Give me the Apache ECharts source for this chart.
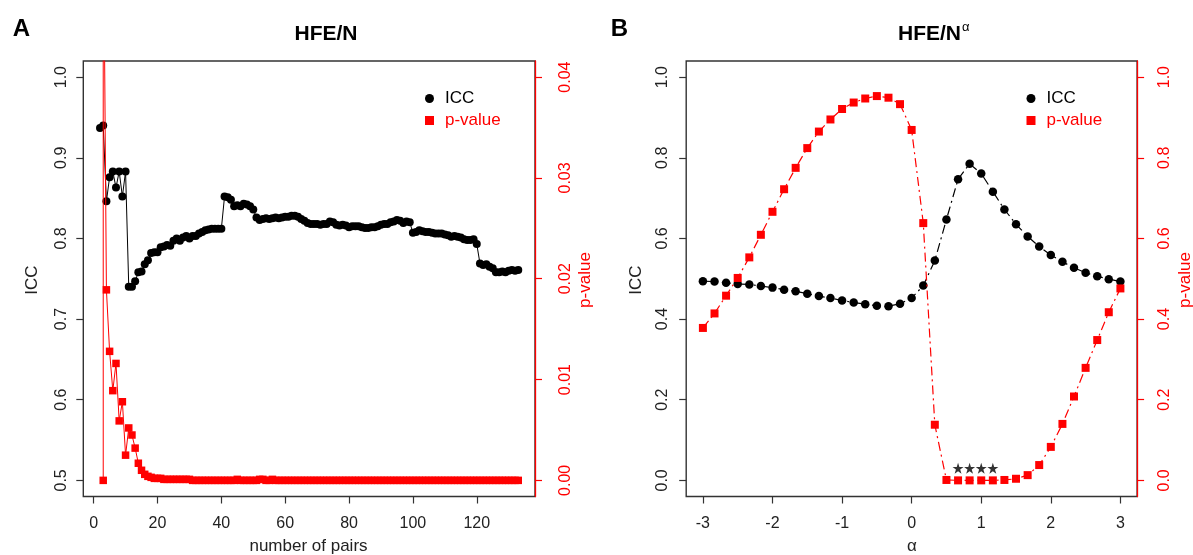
<!DOCTYPE html>
<html><head><meta charset="utf-8">
<script src="https://cdn.jsdelivr.net/npm/echarts@6/dist/echarts.min.js"></script>
<style>html,body{margin:0;padding:0;background:#fff}#c{width:1193px;height:555px}</style>
</head><body><div id="c"></div>
<script>
// ---------- Panel A : HFE/N vs number of pairs ----------
const iccPairs = [2,3,4,5,6,7,8,9,10,11,12,13,14,15,16,17,18,19,20,21,22,23,24,25,26,27,28,29,30,31,32,33,34,35,36,37,38,39,40,41,42,43,44,45,46,47,48,49,50,51,52,53,54,55,56,57,58,59,60,61,62,63,64,65,66,67,68,69,70,71,72,73,74,75,76,77,78,79,80,81,82,83,84,85,86,87,88,89,90,91,92,93,94,95,96,97,98,99,100,101,102,103,104,105,106,107,108,109,110,111,112,113,114,115,116,117,118,119,120,121,122,123,124,125,126,127,128,129,130,131,132,133];
const iccA = [0.937,0.940,0.846,0.876,0.883,0.863,0.883,0.852,0.883,0.740,0.740,0.747,0.758,0.759,0.768,0.773,0.782,0.783,0.783,0.789,0.790,0.792,0.791,0.797,0.800,0.797,0.801,0.803,0.800,0.803,0.803,0.806,0.808,0.810,0.811,0.812,0.812,0.812,0.812,0.852,0.851,0.848,0.840,0.841,0.840,0.843,0.842,0.840,0.836,0.826,0.823,0.824,0.825,0.824,0.825,0.826,0.825,0.826,0.827,0.827,0.828,0.828,0.827,0.824,0.822,0.819,0.818,0.818,0.818,0.817,0.818,0.818,0.821,0.820,0.817,0.816,0.817,0.816,0.814,0.815,0.815,0.815,0.814,0.813,0.813,0.814,0.814,0.815,0.817,0.818,0.818,0.820,0.821,0.823,0.822,0.819,0.821,0.820,0.807,0.808,0.810,0.809,0.808,0.808,0.807,0.806,0.806,0.806,0.805,0.804,0.802,0.803,0.802,0.801,0.799,0.798,0.798,0.799,0.793,0.769,0.767,0.768,0.765,0.763,0.758,0.758,0.759,0.758,0.760,0.761,0.760,0.761];
// p-value: the second entry at 3 pairs is off the top of the scale
const pPairs = [3,3,4,5,6,7,8,9,10,11,12,13,14,15,16,17,18,19,20,21,22,23,24,25,26,27,28,29,30,31,32,33,34,35,36,37,38,39,40,41,42,43,44,45,46,47,48,49,50,51,52,53,54,55,56,57,58,59,60,61,62,63,64,65,66,67,68,69,70,71,72,73,74,75,76,77,78,79,80,81,82,83,84,85,86,87,88,89,90,91,92,93,94,95,96,97,98,99,100,101,102,103,104,105,106,107,108,109,110,111,112,113,114,115,116,117,118,119,120,121,122,123,124,125,126,127,128,129,130,131,132,133];
const pA = [0,0.06,0.0189,0.0128,0.0089,0.0116,0.0059,0.0078,0.0025,0.0052,0.0045,0.0032,0.0017,0.0010,0.0006,0.0004,0.0003,0.0002,0.0002,0.0002,0.0001,0.0001,0.0001,0.0001,0.0001,0.0001,0.0001,0.0001,0.0001,0,0,0,0,0,0,0,0,0,0,0,0,0,0,0.0001,0,0,0,0,0,0,0.0001,0.0001,0,0,0.0001,0,0,0,0,0,0,0,0,0,0,0,0,0,0,0,0,0,0,0,0,0,0,0,0,0,0,0,0,0,0,0,0,0,0,0,0,0,0,0,0,0,0,0,0,0,0,0,0,0,0,0,0,0,0,0,0,0,0,0,0,0,0,0,0,0,0,0,0,0,0,0,0,0,0,0,0,0,0,0];
const xTicksA = [0,20,40,60,80,100,120];
const iccTicksA = [0.5,0.6,0.7,0.8,0.9,1.0];
const pTicksA = [0,0.01,0.02,0.03,0.04];

// ---------- Panel B : HFE/N^alpha vs alpha ----------
const alphaB = [-3,-2.833,-2.667,-2.5,-2.333,-2.167,-2,-1.833,-1.667,-1.5,-1.333,-1.167,-1,-0.833,-0.667,-0.5,-0.333,-0.167,0,0.167,0.333,0.5,0.667,0.833,1,1.167,1.333,1.5,1.667,1.833,2,2.167,2.333,2.5,2.667,2.833,3];
const iccB = [0.494,0.493,0.490,0.487,0.486,0.482,0.478,0.473,0.469,0.463,0.457,0.452,0.446,0.441,0.437,0.433,0.432,0.438,0.452,0.483,0.545,0.647,0.747,0.785,0.761,0.716,0.672,0.635,0.605,0.580,0.559,0.542,0.527,0.515,0.506,0.499,0.493];
const pB = [0.378,0.414,0.458,0.502,0.553,0.609,0.666,0.722,0.775,0.824,0.865,0.895,0.921,0.937,0.947,0.953,0.949,0.933,0.869,0.638,0.138,0.001,0,0,0,0,0.001,0.004,0.013,0.038,0.083,0.140,0.208,0.279,0.348,0.417,0.476];
const starAlpha = [0.667,0.833,1,1.167];
const starLevel = [0.03,0.03,0.03,0.03];
const xTicksB = [-3,-2,-1,0,1,2,3];
const yTicksB = [0,0.2,0.4,0.6,0.8,1.0];

const zip = (a,b) => a.map((v,i)=>[v,b[i]]);
const RED = '#ff0000', INK = '#333333';
const FONT = 'Liberation Sans, Arial, Helvetica, sans-serif';
const STAR = 'path://M50,0 L61.8,35.3 L99,35.3 L68.9,57.3 L80.4,92.7 L50,70.8 L19.6,92.7 L31.1,57.3 L1,35.3 L38.2,35.3 Z';

const G = [
  {left:83.3, top:61, width:451.7, height:435.5},
  {left:686.2, top:61, width:450.9, height:435.5}
];
const tickLen = 7;
function xAxisDef(gi, min, max, ticks){
  return {type:'value', gridIndex:gi, position:'bottom', min, max, splitLine:{show:false},
    axisLine:{show:false, onZero:false},
    axisTick:{show:true, inside:false, length:tickLen, lineStyle:{color:INK, width:1.2}, customValues:ticks},
    axisLabel:{customValues:ticks, margin:19, color:'#222', fontSize:16, fontFamily:FONT}};
}
function yAxisDef(gi, pos, min, max, ticks, dec, col, margin){
  const isRight = pos==='right';
  return {type:'value', gridIndex:gi, position:pos, min, max, splitLine:{show:false},
    axisLine:{show:isRight, onZero:false, lineStyle:{color:col, width:1.3}},
    axisTick:{show:true, inside:false, length:tickLen, lineStyle:{color:col, width:1.2}, customValues:ticks},
    axisLabel:{customValues:ticks, rotate:90, margin, color:isRight?col:'#222', fontSize:16, fontFamily:FONT,
      formatter:v=>v.toFixed(dec)}};
}

const legendDef = (left) => ({left, top:90, padding:0, orient:'vertical', itemWidth:9, itemHeight:9, itemGap:5, selectedMode:false,
  textStyle:{fontSize:17, fontFamily:FONT, padding:[0,0,0,6]},
  data:[{name:'ICC', icon:'circle', textStyle:{color:'#000'}},{name:'p-value', icon:'rect', textStyle:{color:RED}}]});

const option = {
  animation:false,
  backgroundColor:'#fff',
  grid: G.map(g=>Object.assign({show:true, borderColor:INK, borderWidth:1.4, backgroundColor:'transparent'}, g)),
  xAxis:[
    xAxisDef(0,-3.24,138.24,xTicksA),
    xAxisDef(1,-3.24,3.24,xTicksB)
  ],
  yAxis:[
    yAxisDef(0,'left',0.48,1.02,iccTicksA,1,INK,14),
    yAxisDef(0,'right',-0.0016,0.0416,pTicksA,2,RED,23),
    yAxisDef(1,'left',-0.04,1.04,yTicksB,1,INK,15.5),
    yAxisDef(1,'right',-0.04,1.04,yTicksB,1,RED,19.5)
  ],
  legend:[legendDef(425), legendDef(1026.5)],
  series:[
    {name:'ICC', type:'line', xAxisIndex:0, yAxisIndex:0, data:zip(iccPairs,iccA),
     symbol:'circle', symbolSize:8, itemStyle:{color:'#000'}, lineStyle:{color:'#000', width:1}, z:3},
    {name:'p-value', type:'line', xAxisIndex:0, yAxisIndex:1, data:zip(pPairs,pA), clip:true,
     symbol:'rect', symbolSize:7.5, itemStyle:{color:RED}, lineStyle:{color:RED, width:1}, z:4},
    {name:'ICC', type:'line', xAxisIndex:1, yAxisIndex:2, data:zip(alphaB,iccB),
     symbol:'circle', symbolSize:8.5, itemStyle:{color:'#000'}, lineStyle:{color:'#000', width:1.2, type:[9,4,2,4]}, z:3},
    {name:'p-value', type:'line', xAxisIndex:1, yAxisIndex:3, data:zip(alphaB,pB),
     symbol:'rect', symbolSize:8, itemStyle:{color:RED}, lineStyle:{color:RED, width:1.2, type:[9,4,2,4]}, z:4},
    {name:'significant', type:'scatter', xAxisIndex:1, yAxisIndex:3, data:zip(starAlpha,starLevel),
     symbol:STAR, symbolSize:11, itemStyle:{color:'#000'}, z:5}
  ],
  graphic:[
    {type:'text', x:21.5, y:29, style:{text:'A', font:'bold 24px '+FONT, fill:'#000', textAlign:'center', textVerticalAlign:'middle'}},
    {type:'text', x:619.5, y:29, style:{text:'B', font:'bold 24px '+FONT, fill:'#000', textAlign:'center', textVerticalAlign:'middle'}},
    {type:'text', x:326, y:34, style:{text:'HFE/N', font:'bold 21px '+FONT, fill:'#000', textAlign:'center', textVerticalAlign:'middle'}},
    {type:'text', x:961, y:34, style:{text:'HFE/N', font:'bold 21px '+FONT, fill:'#000', textAlign:'right', textVerticalAlign:'middle'}},
    {type:'text', x:962, y:27, style:{text:'α', font:'13px '+FONT, fill:'#000', textAlign:'left', textVerticalAlign:'middle'}},
    {type:'text', x:308.5, y:546, style:{text:'number of pairs', font:'17px '+FONT, fill:'#222', textAlign:'center', textVerticalAlign:'middle'}},
    {type:'text', x:912, y:546, style:{text:'α', font:'17px '+FONT, fill:'#222', textAlign:'center', textVerticalAlign:'middle'}},
    {type:'text', x:32.5, y:280, rotation:Math.PI/2, style:{text:'ICC', font:'17px '+FONT, fill:'#222', textAlign:'center', textVerticalAlign:'middle'}},
    {type:'text', x:636, y:280, rotation:Math.PI/2, style:{text:'ICC', font:'17px '+FONT, fill:'#222', textAlign:'center', textVerticalAlign:'middle'}},
    {type:'text', x:585.5, y:280, rotation:Math.PI/2, style:{text:'p-value', font:'17px '+FONT, fill:RED, textAlign:'center', textVerticalAlign:'middle'}},
    {type:'text', x:1185, y:280, rotation:Math.PI/2, style:{text:'p-value', font:'17px '+FONT, fill:RED, textAlign:'center', textVerticalAlign:'middle'}}
  ]
};
const chart = echarts.init(document.getElementById('c'), null, {renderer:'canvas'});
chart.setOption(option);
</script></body></html>
